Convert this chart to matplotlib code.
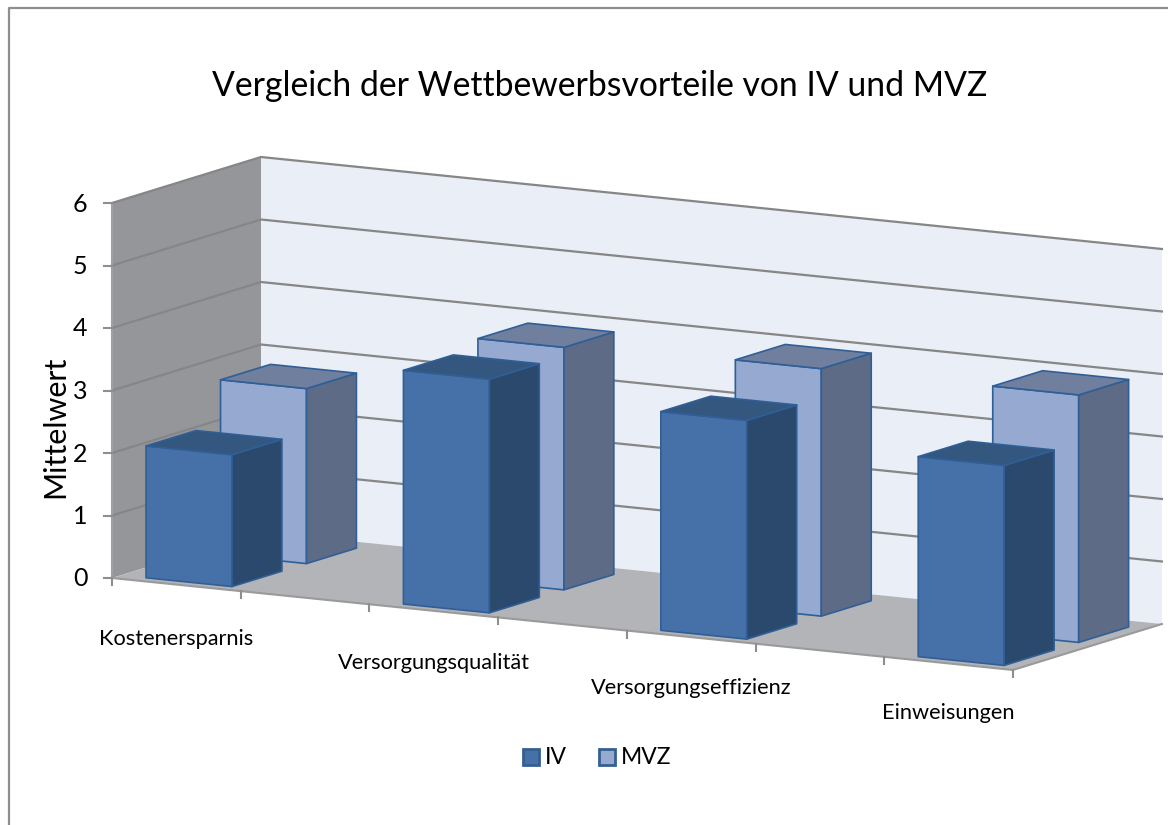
import matplotlib
matplotlib.use("Agg")
import matplotlib.pyplot as plt
from matplotlib.patches import Polygon, Rectangle
import numpy as np

# Daten
kategorien = ["Kostenersparnis", "Versorgungsqualität", "Versorgungseffizienz", "Einweisungen"]
positionen = [0, 2, 4, 6]  # Excel-Achse hat 7 Plätze, jeder zweite leer
iv = [2.11, 3.74, 3.50, 3.20]
mvz = [2.80, 3.88, 3.96, 3.96]
y_ticks = [0, 1, 2, 3, 4, 5, 6]
x_ticks = [0, 1, 2, 3, 4, 5, 6, 7]

plt.rcParams["font.family"] = ["Lato", "DejaVu Sans"]

# Schräge Projektion (Kategorie, Tiefe, Wert) -> Pixel
ursprung = np.array([112.0, 578.0])
e_kat = np.array([128.7, 13.14])
e_tiefe = np.array([149.0, -46.0])
e_wert = np.array([0.0, -62.5])


def proj(k, t, w):
    return ursprung + k * e_kat + t * e_tiefe + w * e_wert


def flaeche(punkte, farbe, rand="none", lw=0.0, z=1):
    ax.add_patch(Polygon(punkte, closed=True, facecolor=farbe, edgecolor=rand, linewidth=lw, joinstyle="round", zorder=z))


def saeule(k, t, wert, farben, rand):
    x0, x1 = k + 0.195, k + 0.195 + 0.668
    t0, t1 = t + 0.06, t + 0.06 + 0.335
    # Vorderseite
    flaeche([proj(x0, t0, 0), proj(x1, t0, 0), proj(x1, t0, wert), proj(x0, t0, wert)], farben[0], rand, 1.2, 3)
    # rechte Seite
    flaeche([proj(x1, t0, 0), proj(x1, t1, 0), proj(x1, t1, wert), proj(x1, t0, wert)], farben[1], rand, 1.2, 3)
    # Deckel
    flaeche([proj(x0, t0, wert), proj(x1, t0, wert), proj(x1, t1, wert), proj(x0, t1, wert)], farben[2], rand, 1.2, 3)


fig = plt.figure(figsize=(11.68, 8.25), dpi=100)
ax = fig.add_axes([0, 0, 1, 1])
ax.set_xlim(0, 1168)
ax.set_ylim(825, 0)
ax.axis("off")

# Rahmen
ax.plot([9, 9, 1168], [825, 8, 8], color="#8e8e8e", lw=1.6, zorder=1)

# Wände und Boden
flaeche([proj(0, 0, 0), proj(0, 1, 0), proj(0, 1, 6), proj(0, 0, 6)], "#949699")
flaeche([proj(0, 1, 0), proj(7, 1, 0), proj(7, 1, 6), proj(0, 1, 6)], "#e9eef7")
flaeche([proj(0, 0, 0), proj(7, 0, 0), proj(7, 1, 0), proj(0, 1, 0)], "#b2b4b8")

# Gitterlinien
for w in y_ticks[1:]:
    p = np.array([proj(0, 0, w), proj(0, 1, w), proj(7, 1, w)])
    ax.plot(p[:, 0], p[:, 1], color="#868686", lw=1.6, zorder=2)

# Achsen
p = np.array([proj(0, 0, 0), proj(0, 0, 6)])
ax.plot(p[:, 0], p[:, 1], color="#a0a0a0", lw=1.5, zorder=2)
p = np.array([proj(0, 0, 0), proj(7, 0, 0), proj(7, 1, 0)])
ax.plot(p[:, 0], p[:, 1], color="#9a9a9a", lw=1.5, zorder=2)

for w in y_ticks:
    p = proj(0, 0, w)
    ax.plot([p[0] - 8, p[0]], [p[1], p[1]], color="#8e8e8e", lw=1.5, zorder=2)
    ax.text(p[0] - 32, p[1] + 1, str(w), ha="center", va="center", fontsize=18, color="black")

for k in x_ticks:
    p = proj(k, 0, 0)
    ax.plot([p[0], p[0]], [p[1], p[1] + 7], color="#8e8e8e", lw=1.5, zorder=2)

# Säulen
farben_iv = ("#4571a8", "#2b486d", "#33577f")
farben_mvz = ("#95a9d1", "#5d6b86", "#707f9e")
for i, k in enumerate(positionen):
    saeule(k, 0.5, mvz[i], farben_mvz, "#2f5f96")
    saeule(k, 0.0, iv[i], farben_iv, "#2f5f96")
    p = proj(k + 0.5, 0, 0)
    ax.text(p[0], p[1] + 54 - 0.8 * k, kategorien[i], ha="center", va="center", fontsize=15.7, color="black")

# Titel und Achsentitel
ax.text(600, 86, "Vergleich der Wettbewerbsvorteile von IV und MVZ", ha="center", va="center", fontsize=24.3, color="black")
ax.text(55, 427, "Mittelwert", rotation=90, ha="center", va="center", fontsize=21.9, color="black")

# Legende
for x, farbe, name in [(522, farben_iv[0], "IV"), (598, farben_mvz[0], "MVZ")]:
    ax.add_patch(Rectangle((x + 1, 749), 16, 16, facecolor=farbe, edgecolor="#355f91", linewidth=2.0, zorder=3))
    ax.text(x + 23, 757, name, ha="left", va="center", fontsize=16.5, color="black")

fig.savefig("out.png", dpi=100)
